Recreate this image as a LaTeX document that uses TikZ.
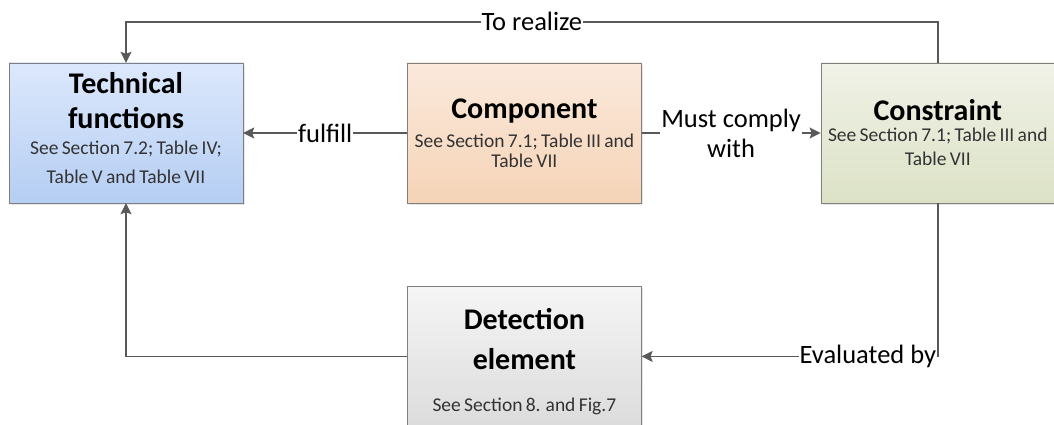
\documentclass[tikz,border=0pt]{standalone}
\usepackage{fontspec}
\setmainfont{Carlito}
\usetikzlibrary{positioning,arrows.meta,shadows}
\definecolor{edge}{HTML}{595959}
\definecolor{boxline}{HTML}{7F7F7F}
\definecolor{techtop}{HTML}{DCE8FC}
\definecolor{techbot}{HTML}{B5CEF3}
\definecolor{comptop}{HTML}{FBE9DC}
\definecolor{compbot}{HTML}{F5D4B7}
\definecolor{constop}{HTML}{F0F2E7}
\definecolor{consbot}{HTML}{DCE2C6}
\definecolor{dettop}{HTML}{F5F5F5}
\definecolor{detbot}{HTML}{DCDCDC}
\newcommand{\hd}[2]{{\fontsize{30}{#1}\selectfont\bfseries #2\par}}
\newcommand{\sub}[2]{{\fontsize{19.5}{#1}\selectfont\color{black!80}#2\par}}

\begin{document}
\begin{tikzpicture}[x=1pt, y=-1pt,
	block/.style = {draw=boxline, rectangle, minimum width=234pt, minimum height=140pt, text width=230pt, inner sep=2pt, align=center, drop shadow={opacity=0.2, shadow xshift=2pt, shadow yshift=-2pt}},
	link/.style = {draw=edge, line width=1.5pt, -{Stealth[length=11pt, width=11pt, inset=2pt]}},
	tag/.style = {fill=white, inner sep=1pt, font=\fontsize{26.5}{30}\selectfont, align=center}]
	\useasboundingbox (0,0) rectangle (1054,425);
	\node[block, top color=techtop, bottom color=techbot] (1) at (126,133) {\hd{35}{Technical\\functions}\sub{26}{See Section 7.2; Table IV;\\[3pt]Table V and Table VII\rule[-10pt]{0pt}{10pt}}};
	\node[block, top color=comptop, bottom color=compbot] (2) [right=164pt of 1] {\hd{35}{Component}\sub{29}{See Section 7.1; Table III and\\[-9pt]Table VII}};
	\node[block, top color=constop, bottom color=consbot] (3) [right=179pt of 2] {\hd{35}{Constraint}\sub{21}{See Section 7.1; Table III and\\[3pt]Table VII}};
	\node[block, top color=dettop, bottom color=detbot] (4) [below=83pt of 2] {\hd{40}{\rule{0pt}{32pt}Detection\\element}\sub{42}{See Section 8. and Fig.7}};
	\draw[link] (2) -- node[tag] {fulfill} (1);
	\draw[link] (2) -- node[tag] {Must comply\\with} (3);
	\draw[link] (3.north) -- ++(0,-41) -| node[tag, pos=0.25] {To realize} (1.north);
	\draw[link] (3.south) |- node[tag, pos=0.618] {Evaluated by} (4.east);
	\draw[link] (4.west) -| (1.south);
\end{tikzpicture}
\end{document}
